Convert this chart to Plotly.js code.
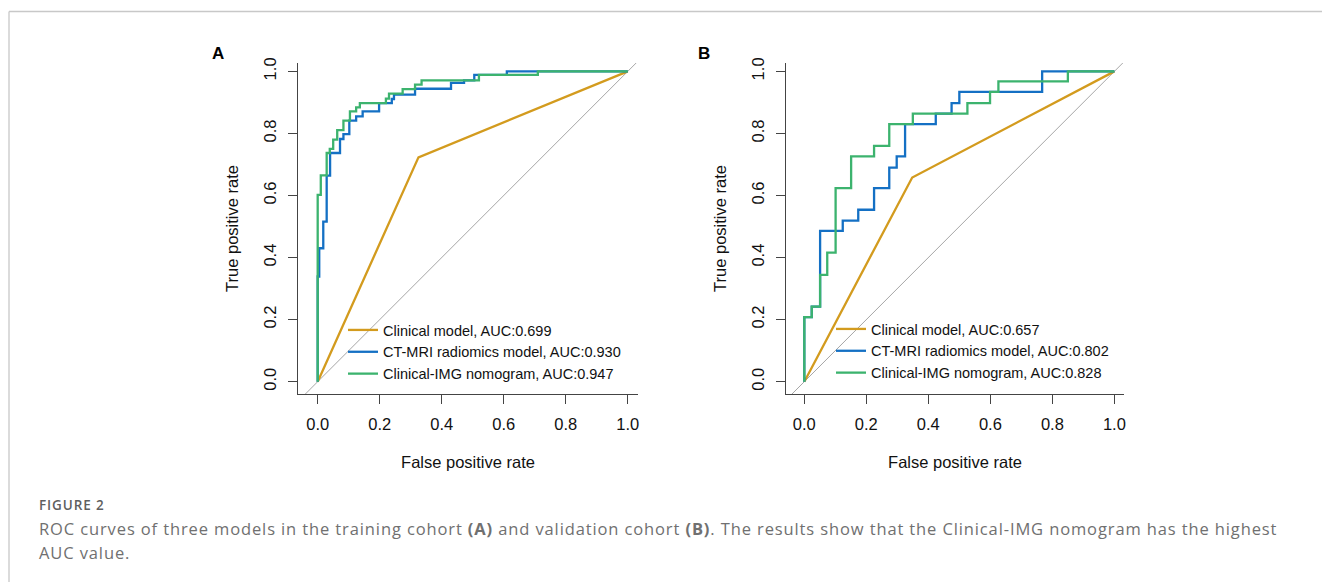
<!DOCTYPE html>
<html>
<head>
<meta charset="utf-8">
<script src="https://cdn.plot.ly/plotly-3.0.1.min.js"></script>
<style>
html,body{margin:0;padding:0;background:#fff;}
#chart{width:1322px;height:582px;}
text.annotation-text{letter-spacing:0.88px;}
</style>
</head>
<body>
<div id="chart"></div>
<script>
// ---------- data (ROC corner points, step shape 'vh') ----------
const seriesNames = ["Clinical model", "CT-MRI radiomics model", "Clinical-IMG nomogram"];
const aucA = ["0.699", "0.930", "0.947"];
const aucB = ["0.657", "0.802", "0.828"];

// Panel A: training cohort
const fprA_clin = [0, 0.325, 1];
const tprA_clin = [0, 0.723, 1];
const fprA_rad = [0, 0.005, 0.018, 0.029, 0.04, 0.072, 0.083, 0.102, 0.124, 0.145, 0.198, 0.239, 0.246, 0.314, 0.43, 0.472, 0.505, 0.61, 1];
const tprA_rad = [0, 0.339, 0.43, 0.516, 0.664, 0.737, 0.782, 0.798, 0.841, 0.855, 0.871, 0.898, 0.911, 0.925, 0.944, 0.963, 0.971, 0.989, 1];
const fprA_nom = [0, 0.01, 0.029, 0.039, 0.05, 0.063, 0.083, 0.104, 0.124, 0.136, 0.22, 0.23, 0.274, 0.314, 0.335, 0.52, 0.71, 1];
const tprA_nom = [0, 0.602, 0.665, 0.737, 0.75, 0.78, 0.811, 0.841, 0.871, 0.884, 0.898, 0.912, 0.928, 0.943, 0.957, 0.971, 0.989, 1];

// Panel B: validation cohort
const fprB_clin = [0, 0.348, 1];
const tprB_clin = [0, 0.658, 1];
const fprB_rad = [0, 0.024, 0.051, 0.124, 0.174, 0.225, 0.274, 0.298, 0.325, 0.424, 0.475, 0.5, 0.767, 1];
const tprB_rad = [0, 0.208, 0.242, 0.486, 0.519, 0.554, 0.624, 0.69, 0.726, 0.83, 0.864, 0.898, 0.934, 1];
const fprB_nom = [0, 0.024, 0.051, 0.074, 0.101, 0.151, 0.225, 0.274, 0.35, 0.526, 0.599, 0.626, 0.85, 1];
const tprB_nom = [0, 0.208, 0.242, 0.344, 0.416, 0.624, 0.726, 0.76, 0.83, 0.864, 0.898, 0.934, 0.968, 1];

const diagRef = [-0.2, 1.2];
const tickVals = [0, 0.2, 0.4, 0.6, 0.8, 1.0];
const tickText = ["0.0", "0.2", "0.4", "0.6", "0.8", "1.0"];

// ---------- styling ----------
const W = 1322, H = 582;
const colors = ["#D39B1E", "#1470C4", "#3CB36E"];
const LW = 2.3;
const FONT = "Arial, 'Liberation Sans', sans-serif";
const px = v => v / W;
const py = v => 1 - v / H;

function panel(fprC, tprC, fprR, tprR, fprN, tprN, auc, xa, ya, leg) {
  const base = {xaxis: xa, yaxis: ya, legend: leg, hoverinfo: "skip"};
  return [
    Object.assign({}, base, {x: diagRef, y: diagRef, mode: "lines", showlegend: false,
      line: {color: "#a6a6a6", width: 1}}),
    Object.assign({}, base, {x: fprC, y: tprC, mode: "lines", name: seriesNames[0] + ", AUC:" + auc[0],
      line: {color: colors[0], width: LW}}),
    Object.assign({}, base, {x: fprR, y: tprR, mode: "lines", name: seriesNames[1] + ", AUC:" + auc[1],
      line: {color: colors[1], width: LW, shape: "vh"}}),
    Object.assign({}, base, {x: fprN, y: tprN, mode: "lines", name: seriesNames[2] + ", AUC:" + auc[2],
      line: {color: colors[2], width: LW, shape: "vh"}})
  ];
}

const data = [].concat(
  panel(fprA_clin, tprA_clin, fprA_rad, tprA_rad, fprA_nom, tprA_nom, aucA, "x", "y", "legend"),
  panel(fprB_clin, tprB_clin, fprB_rad, tprB_rad, fprB_nom, tprB_nom, aucB, "x2", "y2", "legend2")
);

function xax(domain, range, anchor) {
  return {domain: domain, range: range, anchor: anchor,
    tickvals: tickVals, ticktext: tickText, ticks: "outside", ticklen: 9, tickwidth: 1, tickcolor: "#444",
    showline: true, linecolor: "#444", linewidth: 1, showgrid: false, zeroline: false,
    tickfont: {family: FONT, size: 16.5, color: "#111"}, ticklabelstandoff: 6,
    title: {text: "False positive rate", font: {family: FONT, size: 16.5, color: "#111"}, standoff: 24},
    automargin: false, fixedrange: true};
}
function yax(domain, range, anchor) {
  return {domain: domain, range: range, anchor: anchor,
    tickvals: tickVals, ticktext: tickText, ticks: "outside", ticklen: 9, tickwidth: 1, tickcolor: "#444",
    showline: true, linecolor: "#444", linewidth: 1, showgrid: false, zeroline: false, tickangle: -90,
    tickfont: {family: FONT, size: 16.5, color: "#111"}, ticklabelstandoff: 5,
    title: {text: "True positive rate", font: {family: FONT, size: 16.5, color: "#111"}, standoff: 18},
    automargin: false, fixedrange: true};
}

const yDom = [py(394), py(63)];
const legendBase = {font: {family: FONT, size: 14.5, color: "#111"}, bgcolor: "rgba(0,0,0,0)",
  borderwidth: 0, tracegroupgap: 0, itemwidth: 30, xanchor: "left", yanchor: "top", traceorder: "normal"};

const caption1 = "ROC curves of three models in the training cohort <b>(A)</b> and validation cohort <b>(B)</b>. The results show that the Clinical-IMG nomogram has the highest";
const caption2 = "AUC value.";
const capFont = {family: "'Open Sans', sans-serif", size: 16.5, color: "#707070"};

const layout = {
  width: W, height: H,
  margin: {l: 0, r: 0, t: 0, b: 0},
  paper_bgcolor: "#fff", plot_bgcolor: "#fff",
  showlegend: true,
  xaxis: xax([px(298), px(638)], [-0.0635, 1.033], "y"),
  yaxis: yax(yDom, [-0.0397, 1.027], "x"),
  xaxis2: xax([px(786), px(1124)], [-0.059, 1.031], "y2"),
  yaxis2: yax(yDom, [-0.0397, 1.027], "x2"),
  legend: Object.assign({}, legendBase, {x: px(343), y: py(314)}),
  legend2: Object.assign({}, legendBase, {x: px(831), y: py(313)}),
  shapes: [
    {type: "line", xref: "paper", yref: "paper", x0: px(9), x1: 1, y0: py(11.5), y1: py(11.5),
      line: {color: "#c8c8c8", width: 1.3}},
    {type: "line", xref: "paper", yref: "paper", x0: px(9), x1: px(9), y0: py(11.5), y1: 0,
      line: {color: "#c8c8c8", width: 1.3}}
  ],
  annotations: [
    {text: "<b>A</b>", xref: "paper", yref: "paper", x: px(218), y: py(53), showarrow: false,
      xanchor: "center", yanchor: "middle", font: {family: FONT, size: 17, color: "#000"}},
    {text: "<b>B</b>", xref: "paper", yref: "paper", x: px(704), y: py(53), showarrow: false,
      xanchor: "center", yanchor: "middle", font: {family: FONT, size: 17, color: "#000"}},
    {text: "FIGURE 2", xref: "paper", yref: "paper", x: px(37), y: py(505), showarrow: false,
      xanchor: "left", yanchor: "middle", font: {family: "'Open Sans', sans-serif", size: 13.5, color: "#5f5f5f", weight: 600}},
    {text: caption1, xref: "paper", yref: "paper", x: px(37), y: py(528), showarrow: false,
      xanchor: "left", yanchor: "middle", font: capFont},
    {text: caption2, xref: "paper", yref: "paper", x: px(37), y: py(552), showarrow: false,
      xanchor: "left", yanchor: "middle", font: capFont}
  ]
};

Plotly.newPlot("chart", data, layout, {staticPlot: true, displayModeBar: false});
</script>
</body>
</html>
